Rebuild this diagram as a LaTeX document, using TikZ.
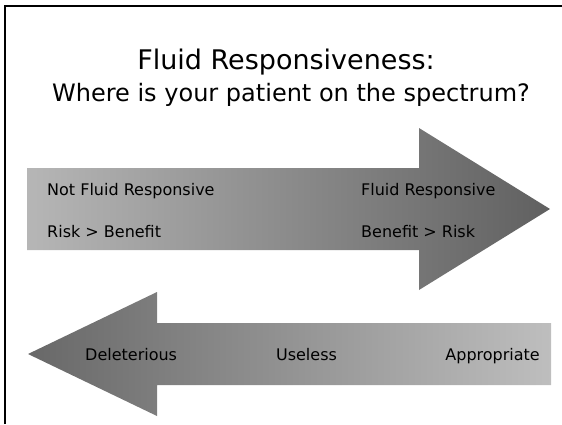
\documentclass[tikz,border=0pt]{standalone}
\usepackage{fontspec}
\setmainfont{DejaVu Sans}
\usetikzlibrary{positioning}
\definecolor{arrowlight}{RGB}{182,182,182}
\definecolor{arrowdark}{RGB}{96,96,96}
\definecolor{arrowpale}{RGB}{190,190,190}
\definecolor{arrowdeep}{RGB}{104,104,104}

\begin{document}
\begin{tikzpicture}[x=1pt, y=-1pt,
  titlefont/.style={anchor=base, inner sep=0pt},
  steptext/.style={font=\fontsize{16}{18}\selectfont, inner sep=0pt}]
  \useasboundingbox (0,0) rectangle (562,424);

  % Slide frame
  \draw[line width=2pt] (5,424) -- (5,6) -- (562,6);

  % Title
  \node[titlefont, font=\fontsize{27}{30}\selectfont] (title) at (286,69) {Fluid Responsiveness:};
  \node[titlefont, font=\fontsize{24}{28}\selectfont] (subtitle) at (291,101.5) {Where is your patient on the spectrum?};

  % Upper arrow (pointing right)
  \shade[left color=arrowlight, right color=arrowdark]
    (27,168) -- (419,168) -- (419,128) -- (550,209) -- (419,290) -- (419,250) -- (27,250) -- cycle;
  \node[steptext, anchor=base west] (notresp) at (47,195) {Not Fluid Responsive};
  \node[steptext, anchor=base west] (riskben) at (47,237) {Risk > Benefit};
  \node[steptext, anchor=base west] (resp) at (361,195) {Fluid Responsive};
  \node[steptext, anchor=base west] (benrisk) at (361,237) {Benefit > Risk};

  % Lower arrow (pointing left)
  \shade[left color=arrowdeep, right color=arrowpale]
    (28,354) -- (157,292) -- (157,323) -- (551,323) -- (551,385) -- (157,385) -- (157,416) -- cycle;
  \node[steptext, anchor=base west] (delet) at (85,360) {Deleterious};
  \node[steptext, anchor=base] (useless) at (306.5,360) {Useless};
  \node[steptext, anchor=base east] (approp) at (540,360) {Appropriate};
\end{tikzpicture}
\end{document}
